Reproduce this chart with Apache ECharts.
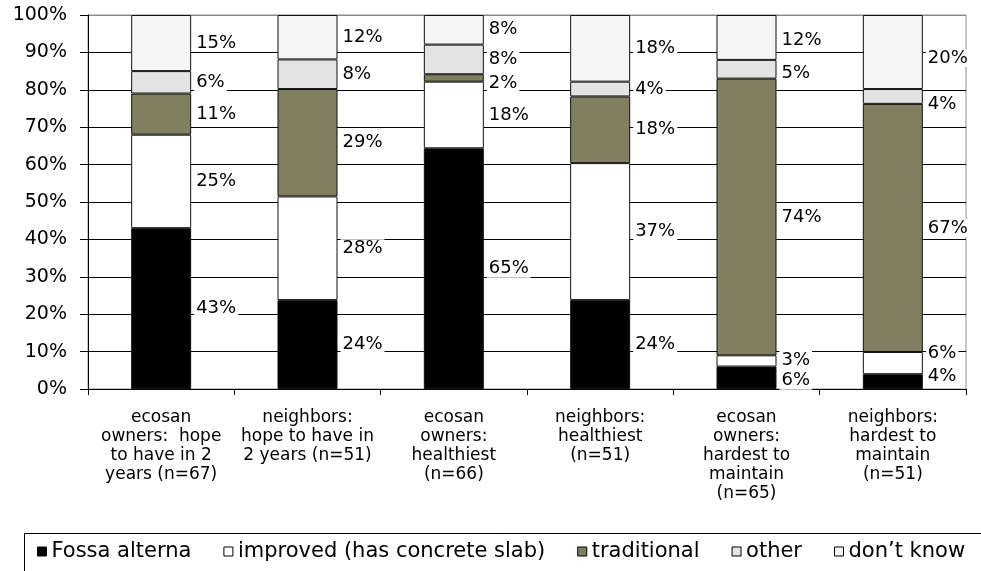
<!DOCTYPE html>
<html>
<head>
<meta charset="utf-8">
<script src="https://cdn.jsdelivr.net/npm/echarts@6/dist/echarts.min.js"></script>
<style>
    html, body {margin: 0; padding: 0; background: #fff;}
    #main {width: 981px; height: 571px;}
</style>
</head>
<body>
<div id="main"></div>
<script>
    var categories = [
        'ecosan\nowners:  hope\nto have in 2\nyears (n=67)',
        'neighbors:\nhope to have in\n2 years (n=51)',
        'ecosan\nowners:\nhealthiest\n(n=66)',
        'neighbors:\nhealthiest\n(n=51)',
        'ecosan\nowners:\nhardest to\nmaintain\n(n=65)',
        'neighbors:\nhardest to\nmaintain\n(n=51)'
    ];
    var seriesNames = ['Fossa alterna', 'improved (has concrete slab)', 'traditional', 'other', 'don\u2019t know'];
    var fossaAlterna = [43, 24, 65, 24, 6, 4];
    var improved = [25, 28, 18, 37, 3, 6];
    var traditional = [11, 29, 2, 18, 74, 67];
    var other = [6, 8, 8, 4, 5, 4];
    var dontKnow = [15, 12, 8, 18, 12, 20];

    var colors = ['#000000', '#ffffff', '#808060', '#e3e3e3', '#f5f5f5'];
    var raw = [fossaAlterna, improved, traditional, other, dontKnow];

    // hand-moved labels in the original (series-dataIndex: dy px)
    var labelNudge = {
        '0-4': 3, '1-4': -1, '3-4': 4, '4-4': 3,
        '0-5': -5, '1-5': -10, '3-5': 8, '4-5': 6,
        '2-2': 5
    };

    // 100% stacked: scale each column to its own total
    var totals = categories.map(function (c, i) {
        return raw.reduce(function (s, arr) { return s + arr[i]; }, 0);
    });
    function share(arr) {
        return arr.map(function (v, i) { return v / totals[i] * 100; });
    }

    var font = 'DejaVu Sans, Liberation Sans, sans-serif';
    var gridColors = [];
    for (var k = 0; k < 11; k++) gridColors.push(k === 10 ? '#8c8c8c' : '#000');

    var chart = echarts.init(document.getElementById('main'));
    chart.setOption({
        animation: false,
        grid: {left: 88, right: 15, top: 15, bottom: 182, show: true, borderColor: '#8c8c8c', borderWidth: 1},
        legend: {
            left: 37, top: 541, padding: 0, itemWidth: 9, itemHeight: 9, itemGap: 32, icon: 'rect',
            textStyle: {fontFamily: font, fontSize: 21, color: '#000'},
            data: seriesNames.map(function (n) {
                return {name: n, itemStyle: {borderColor: '#000', borderWidth: 1}};
            })
        },
        graphic: [{
            type: 'rect', left: 22, top: 531, silent: true,
            shape: {width: 980, height: 60},
            style: {fill: 'none', stroke: '#000', lineWidth: 1}
        }],
        xAxis: {
            type: 'category', data: categories,
            axisLine: {lineStyle: {color: '#000'}},
            axisTick: {show: true, length: 6, lineStyle: {color: '#000'}},
            axisLabel: {
                interval: 0, margin: 19, color: '#000', fontFamily: font, fontSize: 17, lineHeight: 19, align: 'center'
            }
        },
        yAxis: {
            type: 'value', min: 0, max: 100, interval: 10,
            axisLine: {show: true, lineStyle: {color: '#000'}},
            axisTick: {show: true, length: 8, lineStyle: {color: '#000'}},
            axisLabel: {formatter: '{value}%', margin: 21, color: '#000', fontFamily: font, fontSize: 19},
            splitLine: {show: true, lineStyle: {color: gridColors, width: 1}}
        },
        series: raw.map(function (arr, si) {
            return {
                name: seriesNames[si], type: 'bar', stack: 'all', barWidth: 60,
                data: share(arr),
                itemStyle: {color: colors[si], borderColor: '#111', borderWidth: 1},
                label: {
                    show: true, position: 'right', distance: 3,
                    fontFamily: font, fontSize: 18, color: '#000',
                    backgroundColor: '#fff', padding: [0, 2],
                    formatter: function (p) { return raw[p.seriesIndex][p.dataIndex] + '%'; }
                },
                labelLayout: function (p) {
                    var dy = labelNudge[p.seriesIndex + '-' + p.dataIndex];
                    return dy ? {dy: dy} : {};
                }
            };
        })
    });
</script>
</body>
</html>
